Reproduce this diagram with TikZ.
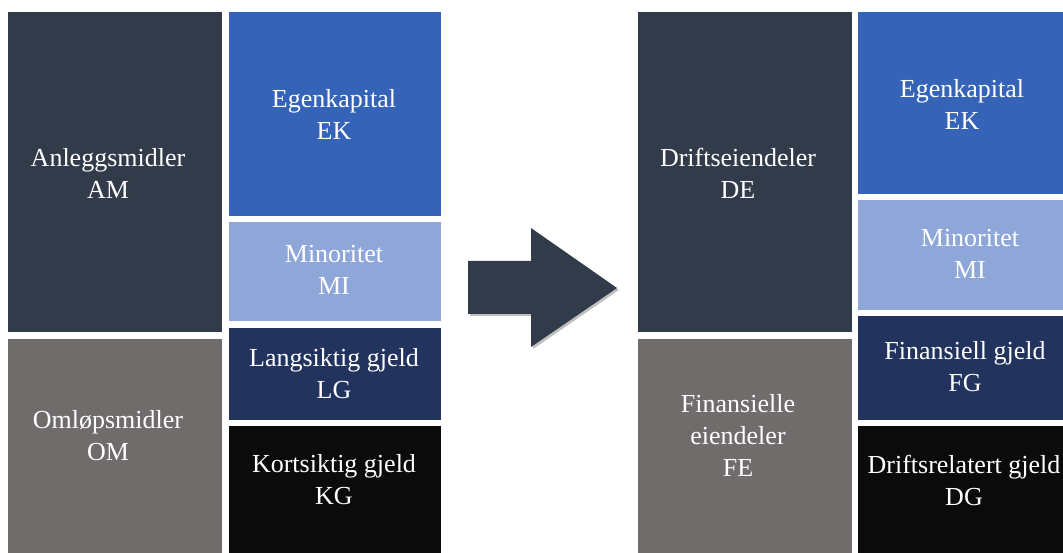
\documentclass[tikz,border=0pt]{standalone}
\usepackage{fontspec}
\setmainfont{Liberation Serif}

\definecolor{slate}{HTML}{323B4A}
\definecolor{stone}{HTML}{706C6B}
\definecolor{equity}{HTML}{3563B8}
\definecolor{minority}{HTML}{8FA7D8}
\definecolor{navy}{HTML}{22335E}
\definecolor{ink}{HTML}{0B0B0B}

\begin{document}
\begin{tikzpicture}[x=1pt, y=-1pt,
  boxtext/.style={text=white, align=center, font=\fontsize{26}{32}\selectfont}]
  % Canvas
  \useasboundingbox (0,0) rectangle (1063,553);

  % Left balance sheet
  \fill[slate]    (8,12)    rectangle (222,332);
  \fill[stone]    (8,339)   rectangle (222,553);
  \fill[equity]   (229,12)  rectangle (441,216);
  \fill[minority] (229,222) rectangle (441,321);
  \fill[navy]     (229,328) rectangle (441,420);
  \fill[ink]      (229,426) rectangle (441,553);

  % Right balance sheet
  \fill[slate]    (638,12)  rectangle (852,332);
  \fill[stone]    (638,339) rectangle (852,553);
  \fill[equity]   (858,12)  rectangle (1063,194);
  \fill[minority] (858,200) rectangle (1063,310);
  \fill[navy]     (858,316) rectangle (1063,420);
  \fill[ink]      (858,426) rectangle (1063,553);

  % The arrow
  \fill[black, opacity=0.25]
    (470,263) -- (533,263) -- (533,230) -- (619,290) -- (533,349) -- (533,316) -- (470,316) -- cycle;
  \fill[slate]
    (468,261) -- (531,261) -- (531,228) -- (617,288) -- (531,347) -- (531,314) -- (468,314) -- cycle;

  % Label the left boxes
  \node[boxtext] (AM) at (108,173) {Anleggsmidler\\AM};
  \node[boxtext] (OM) at (108,436) {Omløpsmidler\\OM};
  \node[boxtext] (EK) at (334,114) {Egenkapital\\EK};
  \node[boxtext] (MI) at (334,270) {Minoritet\\MI};
  \node[boxtext] (LG) at (334,374) {Langsiktig gjeld\\LG};
  \node[boxtext] (KG) at (334,480) {Kortsiktig gjeld\\KG};

  % Label the right boxes
  \node[boxtext] (DE) at (738,173) {Driftseiendeler\\DE};
  \node[boxtext] (FE) at (738,435) {Finansielle\\eiendeler\\FE};
  \node[boxtext] (EK2) at (962,104) {Egenkapital\\EK};
  \node[boxtext] (MI2) at (970,254) {Minoritet\\MI};
  \node[boxtext] (FG) at (965,367) {Finansiell gjeld\\FG};
  \node[boxtext] (DG) at (964,480) {Driftsrelatert gjeld\\DG};
\end{tikzpicture}
\end{document}
